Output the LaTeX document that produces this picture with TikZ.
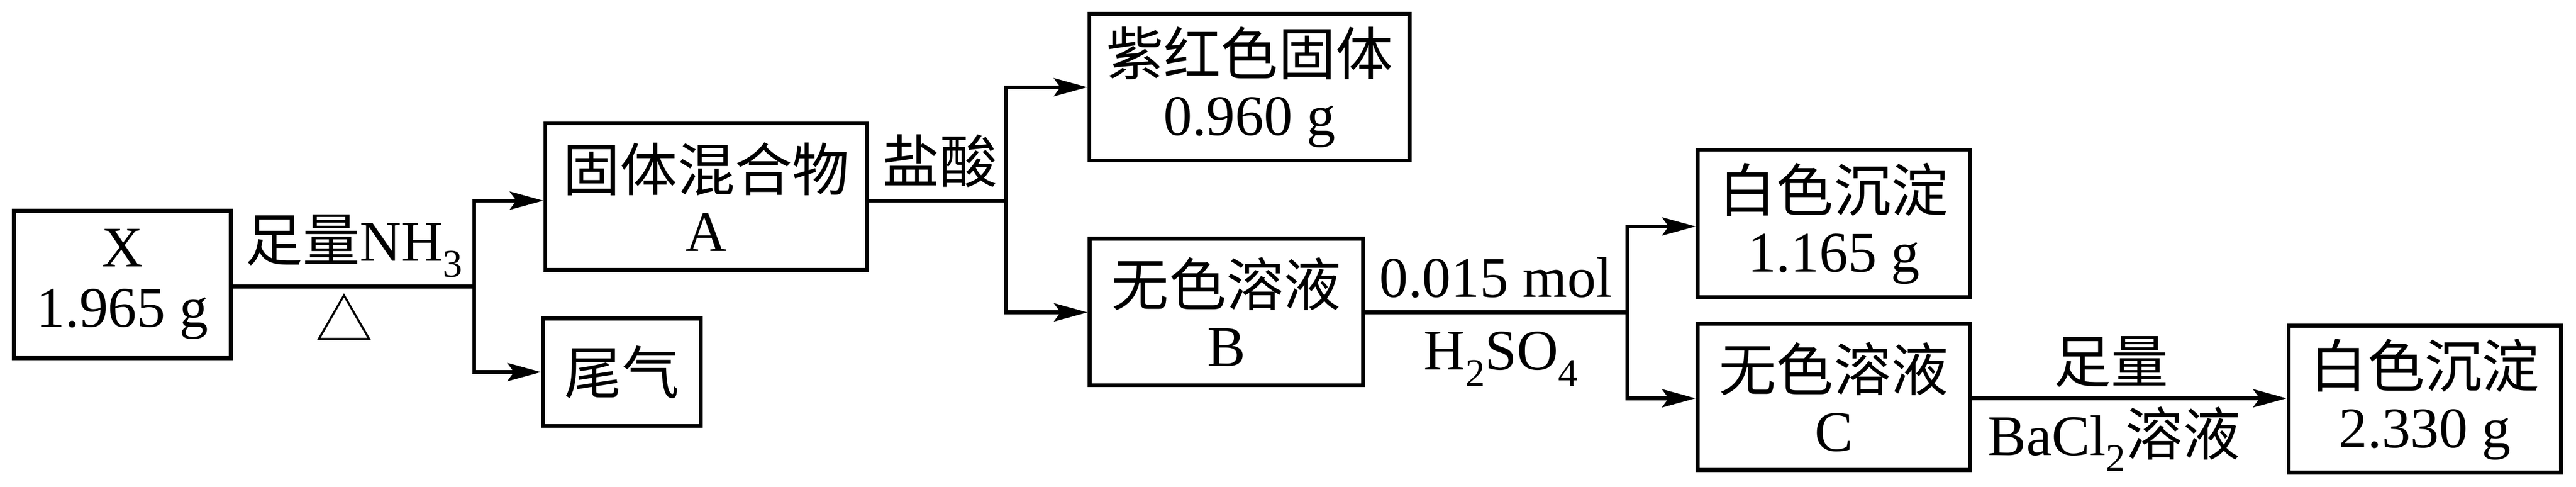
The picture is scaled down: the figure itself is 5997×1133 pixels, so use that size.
\documentclass[tikz,border=0pt]{standalone}
\usepackage{fontspec}
\setmainfont{Liberation Serif}
\newfontfamily\cjk{Noto Sans CJK SC}
\usetikzlibrary{arrows.meta}
\newcommand\zh[1]{{\cjk #1}}
\newcommand\lowsub[1]{\raisebox{-0.28em}{\fontsize{26}{26}\selectfont #1}}
\begin{document}
\begin{tikzpicture}[x=0.1mm,y=-0.1mm,
  box/.style={draw, line width=0.9mm, inner sep=0pt, align=center, font=\fontsize{38}{40}\selectfont},
  lbl/.style={inner sep=0pt, font=\fontsize{38}{40}\selectfont},
  conn/.style={line width=0.9mm},
  arr/.style={line width=0.9mm, -{Stealth[length=7.8mm,width=4.2mm,inset=1.5mm]}}]
\useasboundingbox (0,0) rectangle (5997,1133);
% boxes
\node[box, minimum width=50.5mm, minimum height=34.3mm] (X) at (285,662) {X\\1.965 g};
\node[box, minimum width=74.9mm, minimum height=34.1mm] (A) at (1644,458) {\zh{固体混合物}\\A};
\node[box, minimum width=36.8mm, minimum height=25mm] (W) at (1448,866) {\zh{尾气}};
\node[box, minimum width=74.6mm, minimum height=34.1mm] (P) at (2909,203) {\zh{紫红色固体}\\0.960 g};
\node[box, minimum width=63.7mm, minimum height=34.1mm] (B) at (2855,726) {\zh{无色溶液}\\B};
\node[box, minimum width=63.4mm, minimum height=34.3mm] (S1) at (4269,520) {\zh{白色沉淀}\\1.165 g};
\node[box, minimum width=63.4mm, minimum height=34mm] (C) at (4269,924) {\zh{无色溶液}\\C};
\node[box, minimum width=63.4mm, minimum height=34.2mm] (S2) at (5645,929) {\zh{白色沉淀}\\2.330 g};
% junctions
\coordinate (j1) at (1104,667);
\coordinate (j2) at (2342,467);
\coordinate (j3) at (3788,727);
% connectors
\draw[conn] (X.east |- j1) -- (j1);
\draw[arr] (j1) |- (A.west |- j2);
\draw[arr] (j1) |- (W.west);
\draw[conn] (A.east |- j2) -- (j2);
\draw[arr] (j2) |- (P.west);
\draw[arr] (j2) |- (B.west |- j3);
\draw[conn] (B.east |- j3) -- (j3);
\draw[arr] (j3) |- ([yshift=-0.7mm]S1.west);
\draw[arr] (j3) |- ([yshift=-0.3mm]C.west);
\draw[arr] ([yshift=-0.3mm]C.east) -- ([yshift=0.2mm]S2.west);
% labels
\node[lbl, anchor=base] (l1) at (824,607) {\zh{足量}NH\lowsub{3}};
\node[lbl] (l2) at (802,738) {\zh{△}};
\node[lbl, anchor=base] (l3) at (2188,425) {\zh{盐酸}};
\node[lbl, anchor=base] (l4) at (3482,692) {0.015 mol};
\node[lbl, anchor=base] (l5) at (3494,861) {H\lowsub{2}SO\lowsub{4}};
\node[lbl, anchor=base] (l6) at (4915,890) {\zh{足量}};
\node[lbl, anchor=base] (l7) at (4922,1060) {BaCl\lowsub{2}\zh{溶液}};
\end{tikzpicture}
\end{document}
